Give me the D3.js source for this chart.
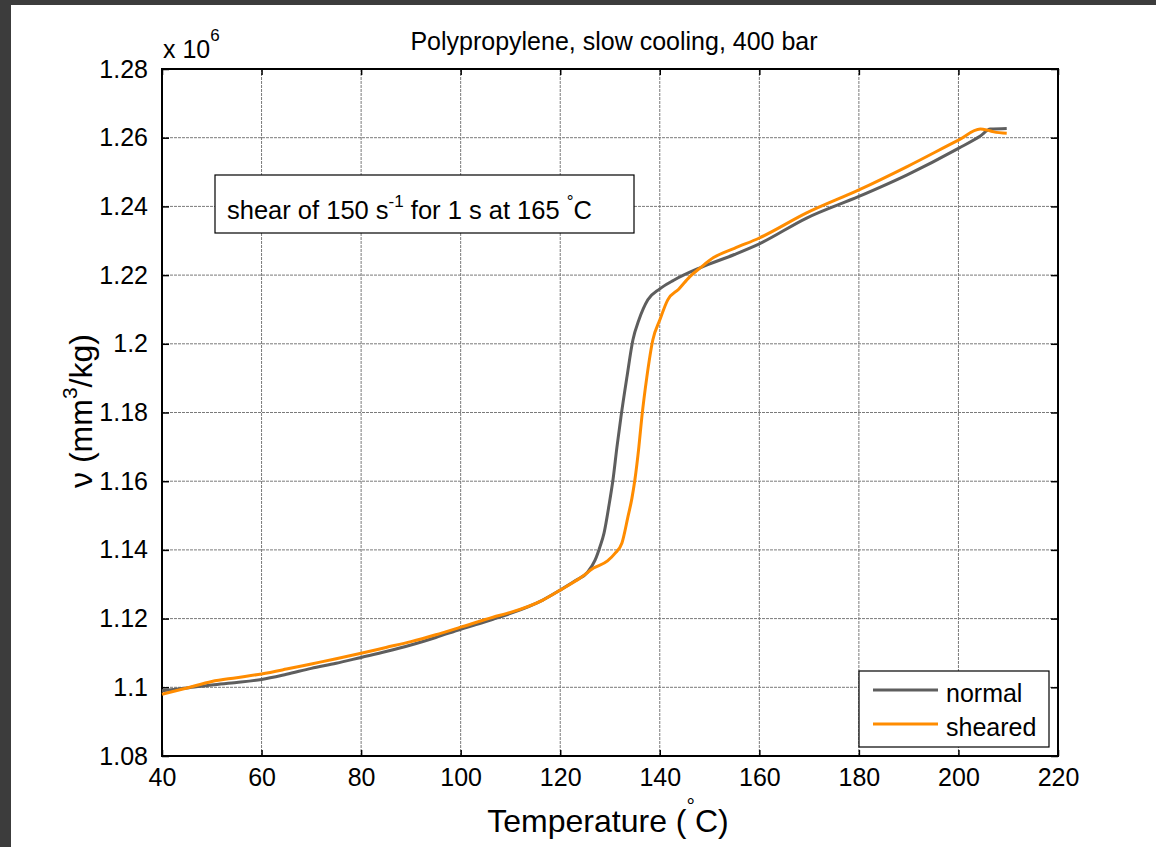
<!DOCTYPE html>
<html>
<head>
<meta charset="utf-8">
<script src="https://cdn.jsdelivr.net/npm/d3@7"></script>
<style>
  html, body { margin: 0; padding: 0; background: #3c3c3c; }
  svg { display: block; }
  text { font-family: "Liberation Sans", Arial, sans-serif; fill: #000; }
</style>
</head>
<body>
<svg id="chart" width="1156" height="847"></svg>
<script>
// Specific volume (×10^6 mm³/kg) vs temperature, two runs
const tempNormal = [40, 45, 50, 55, 60, 65, 70, 75, 80, 85, 90, 95, 100, 106.5, 110, 116.5, 120, 123, 125.5, 127, 128, 128.8, 129.8, 130.6, 131.4, 132.2, 133.4, 134.6, 135.8, 137.6, 140, 142.8, 148.2, 155, 160, 169.5, 180, 189.7, 200, 204.4, 206.4, 209.7];
const volNormal  = [1.0990, 1.0998, 1.1007, 1.1014, 1.1023, 1.1038, 1.1055, 1.1070, 1.1087, 1.1104, 1.1123, 1.1145, 1.1169, 1.1198, 1.1215, 1.1254, 1.1283, 1.1310, 1.1335, 1.1370, 1.1410, 1.1449, 1.1530, 1.1604, 1.1700, 1.1787, 1.1903, 1.2011, 1.2069, 1.2128, 1.2160, 1.2185, 1.2222, 1.2260, 1.2291, 1.2366, 1.2429, 1.2492, 1.2569, 1.2605, 1.2625, 1.2627];

const tempSheared = [40, 45, 50, 55, 60, 65, 70, 75, 80, 85, 90, 95, 100, 106.5, 110, 116.5, 120, 124, 126.7, 129.5, 131, 132.4, 133.6, 134.4, 135, 135.8, 136.4, 137.4, 138.6, 140, 141.6, 143.8, 146, 148.2, 150.8, 155, 160, 169.5, 180, 189.7, 200, 204.4, 205.8, 207.1, 209.7];
const volSheared  = [1.0980, 1.0998, 1.1017, 1.1028, 1.1039, 1.1053, 1.1068, 1.1083, 1.1099, 1.1116, 1.1133, 1.1153, 1.1175, 1.1204, 1.1218, 1.1254, 1.1283, 1.1318, 1.1347, 1.1368, 1.1390, 1.1420, 1.1496, 1.1550, 1.1604, 1.1700, 1.1787, 1.1903, 1.2011, 1.2069, 1.2128, 1.2159, 1.2195, 1.2222, 1.2251, 1.2278, 1.2308, 1.2381, 1.2448, 1.2516, 1.2593, 1.2625, 1.2622, 1.2617, 1.2613];

const xTicks = [40, 60, 80, 100, 120, 140, 160, 180, 200, 220];
const yTicks = [1.08, 1.1, 1.12, 1.14, 1.16, 1.18, 1.2, 1.22, 1.24, 1.26, 1.28];
const seriesNames = ["normal", "sheared"];
const seriesColors = ["#5e5e5e", "#ff8c00"];

const FS = 25;   // base font size
const svg = d3.select("#chart");

// white figure area
svg.append("rect").attr("x", 11).attr("y", 5).attr("width", 1145).attr("height", 842).attr("fill", "#fff");

const L = 162, R = 1058, T = 69, B = 756;
const x = d3.scaleLinear().domain([40, 220]).range([L, R]);
const y = d3.scaleLinear().domain([1.08, 1.28]).range([B, T]);

// dotted grid
const grid = svg.append("g");
grid.selectAll("line.gx").data(xTicks.slice(1, -1)).enter().append("line")
  .attr("x1", d => x(d)).attr("x2", d => x(d)).attr("y1", T).attr("y2", B)
  .attr("stroke", "#7a7a7a").attr("stroke-width", 1).attr("stroke-dasharray", "3,1");
grid.selectAll("line.gy").data(yTicks.slice(1, -1)).enter().append("line")
  .attr("x1", L).attr("x2", R).attr("y1", d => y(d)).attr("y2", d => y(d))
  .attr("stroke", "#7a7a7a").attr("stroke-width", 1).attr("stroke-dasharray", "3,1");

// axes with inward ticks on all four sides
const fmtY = d => String(+d.toFixed(2));
const axB = svg.append("g").attr("transform", `translate(0,${B})`)
  .call(d3.axisBottom(x).tickValues(xTicks).tickSizeInner(-6).tickSizeOuter(0).tickPadding(12));
const axT = svg.append("g").attr("transform", `translate(0,${T})`)
  .call(d3.axisTop(x).tickValues(xTicks).tickSizeInner(-6).tickSizeOuter(0).tickFormat(""));
const axL = svg.append("g").attr("transform", `translate(${L},0)`)
  .call(d3.axisLeft(y).tickValues(yTicks).tickSizeInner(-7).tickSizeOuter(0).tickPadding(14).tickFormat(fmtY));
const axR = svg.append("g").attr("transform", `translate(${R},0)`)
  .call(d3.axisRight(y).tickValues(yTicks).tickSizeInner(-7).tickSizeOuter(0).tickFormat(""));
[axB, axT, axL, axR].forEach(g => {
  g.select(".domain").remove();
  g.selectAll(".tick line").attr("stroke", "#000").attr("stroke-width", 1.5);
  g.selectAll("text").style("font-size", FS + "px").style("font-family", "'Liberation Sans', Arial, sans-serif").attr("fill", "#000");
});
axB.selectAll("text").attr("dy", "0.71em");

// axis box
svg.append("rect").attr("x", L).attr("y", T).attr("width", R - L).attr("height", B - T)
  .attr("fill", "none").attr("stroke", "#000").attr("stroke-width", 2);

// curves
const line = d3.line().curve(d3.curveMonotoneX).x(d => x(d[0])).y(d => y(d[1]));
const dataN = tempNormal.map((t, i) => [t, volNormal[i]]);
const dataS = tempSheared.map((t, i) => [t, volSheared[i]]);
svg.append("path").datum(dataN).attr("d", line).attr("fill", "none")
  .attr("stroke", seriesColors[0]).attr("stroke-width", 3).attr("stroke-linejoin", "round");
svg.append("path").datum(dataS).attr("d", line).attr("fill", "none")
  .attr("stroke", seriesColors[1]).attr("stroke-width", 3).attr("stroke-linejoin", "round");

// exponent label
const expo = svg.append("text").attr("x", 163).attr("y", 58).style("font-size", FS + "px");
expo.append("tspan").text("x 10");
expo.append("tspan").attr("dy", -17).style("font-size", "17px").text("6");

// title
svg.append("text").attr("x", 614).attr("y", 50).attr("text-anchor", "middle")
  .style("font-size", FS + "px").text("Polypropylene, slow cooling, 400 bar");

// x label
const xl = svg.append("text").attr("x", 608).attr("y", 832).attr("text-anchor", "middle").style("font-size", "32px");
xl.append("tspan").text("Temperature (");
xl.append("tspan").attr("dy", -19).style("font-size", "21px").text("\u00B0");
xl.append("tspan").attr("dy", 19).text("C)");

// y label
const yl = svg.append("text").attr("transform", "translate(92,411) rotate(-90)")
  .attr("text-anchor", "middle").style("font-size", "32px");
yl.append("tspan").text("\u03BD (mm");
yl.append("tspan").attr("dy", -15).style("font-size", "21px").text("3");
yl.append("tspan").attr("dy", 15).text("/kg)");

// annotation box
svg.append("rect").attr("x", 215).attr("y", 175).attr("width", 419).attr("height", 58)
  .attr("fill", "#fff").attr("stroke", "#000").attr("stroke-width", 1.2);
const ann = svg.append("text").attr("x", 227).attr("y", 219).style("font-size", "25.5px");
ann.append("tspan").text("shear of 150 s");
ann.append("tspan").attr("dy", -12).style("font-size", "17px").text("-1");
ann.append("tspan").attr("dy", 12).text(" for 1 s at 165 ");
ann.append("tspan").attr("dy", -12).style("font-size", "17px").text("\u00B0");
ann.append("tspan").attr("dy", 12).text("C");

// legend
const lg = svg.append("g");
lg.append("rect").attr("x", 859).attr("y", 671).attr("width", 190).attr("height", 76)
  .attr("fill", "#fff").attr("stroke", "#000").attr("stroke-width", 1.2);
seriesNames.forEach((name, i) => {
  const yy = 690 + i * 34;
  lg.append("line").attr("x1", 873).attr("x2", 938).attr("y1", yy).attr("y2", yy)
    .attr("stroke", seriesColors[i]).attr("stroke-width", 3);
  lg.append("text").attr("x", 946).attr("y", yy + 12).style("font-size", FS + "px").text(name);
});
</script>
</body>
</html>
